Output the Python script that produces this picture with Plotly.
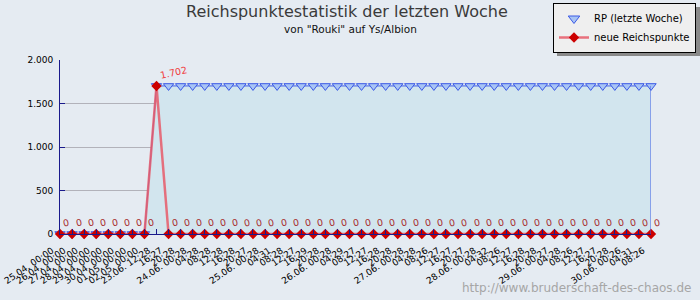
import plotly.graph_objects as go

labels = ["25.04. 00:00", "26.04. 00:00", "27.04. 00:00", "28.04. 00:00",
          "29.04. 00:00", "30.04. 00:00", "01.05. 00:00", "02.05. 00:00",
          "23.06. 12:28", "16:27", "20:28",
          "24.06. 00:28", "04:28", "08:28", "12:28", "16:28", "20:27",
          "25.06. 00:28", "04:31", "08:28", "12:27", "16:29", "20:28",
          "26.06. 00:28", "04:29", "08:27", "12:27", "16:28", "20:28",
          "27.06. 00:28", "04:28", "08:26", "12:27", "16:27", "20:27",
          "28.06. 00:28", "04:32", "08:26", "12:27", "16:28", "20:28",
          "29.06. 00:27", "04:28", "08:26", "12:27", "16:27", "20:28",
          "30.06. 00:26", "04:31", "08:26"]

rp_week = [0, 0, 0, 0, 0, 0, 0, 0,
           1702, 1702, 1702,
           1702, 1702, 1702, 1702, 1702, 1702,
           1702, 1702, 1702, 1702, 1702, 1702,
           1702, 1702, 1702, 1702, 1702, 1702,
           1702, 1702, 1702, 1702, 1702, 1702,
           1702, 1702, 1702, 1702, 1702, 1702,
           1702, 1702, 1702, 1702, 1702, 1702,
           1702, 1702, 1702]

new_rp = [0, 0, 0, 0, 0, 0, 0, 0,
          1702, 0, 0,
          0, 0, 0, 0, 0, 0,
          0, 0, 0, 0, 0, 0,
          0, 0, 0, 0, 0, 0,
          0, 0, 0, 0, 0, 0,
          0, 0, 0, 0, 0, 0,
          0, 0, 0, 0, 0, 0,
          0, 0, 0]

title_text = "Reichspunktestatistik der letzten Woche"
subtitle_text = 'von "Rouki" auf Ys/Albion'
watermark = "http://www.bruderschaft-des-chaos.de"
series_names = ["RP (letzte Woche)", "neue Reichspunkte"]

xs = list(range(len(labels)))

BG = "#e5ebf2"
AXIS = "#1a1a8c"
BLUE = "#3c5ae6"
SHADOW = "#8a8a8a"
FONT = "DejaVu Sans"

# plot area geometry (pixels)
L, R, T, B = 60, 49, 60, 66
W, H = 700, 300
PW, PH = W - L - R, H - T - B


def px_x(p):
    return (p - L) / PW


def px_y(p):
    return (H - B - p) / PH


fig = go.Figure()

fig.add_trace(go.Scatter(
    x=xs, y=rp_week, mode="lines+markers", fill="tozeroy",
    fillcolor="#d2e5ee",
    line=dict(color=BLUE, width=1),
    marker=dict(symbol="triangle-down", size=9, color="#a8c4f4",
                line=dict(color=BLUE, width=1)),
    name=series_names[0], showlegend=False, cliponaxis=False,
))
fig.add_trace(go.Scatter(
    x=[None], y=[None], mode="markers",
    marker=dict(symbol="triangle-down", size=10, color="#a8c4f4",
                line=dict(color=BLUE, width=1)),
    name=series_names[0],
))
fig.add_trace(go.Scatter(
    x=xs, y=new_rp, mode="lines+markers",
    line=dict(color="rgba(232,90,104,0.85)", width=2.5),
    marker=dict(symbol="diamond", size=8, color="#cc0000"),
    name=series_names[1], cliponaxis=False,
))


def fmt(v):
    return f"{v:,}".replace(",", ".")


annotations = []
for x, v in zip(xs, new_rp):
    annotations.append(dict(
        x=x, y=v, xref="x", yref="y", text=fmt(v), showarrow=False,
        xanchor="left", yanchor="bottom", yshift=3, xshift=0,
        textangle=-12,
        font=dict(family=FONT, size=9.5,
                  color="#f03c3c" if v > 0 else "#a83030"),
    ))

annotations += [
    dict(x=px_x(347), y=px_y(11), xref="paper", yref="paper",
         text=title_text, showarrow=False, xanchor="center", yanchor="middle",
         font=dict(family=FONT, size=16, color="#3a3a3a")),
    dict(x=px_x(350), y=px_y(29), xref="paper", yref="paper",
         text=subtitle_text, showarrow=False, xanchor="center", yanchor="middle",
         font=dict(family=FONT, size=10.5, color="#111111")),
    dict(x=px_x(693), y=px_y(288), xref="paper", yref="paper",
         text=watermark, showarrow=False, xanchor="right", yanchor="middle",
         font=dict(family=FONT, size=12, color="#a6a6a6")),
]

shapes = [
    # right edge of the filled area
    dict(type="line", xref="x", yref="y", x0=xs[-1], x1=xs[-1],
         y0=0, y1=rp_week[-1], line=dict(color=BLUE, width=1)),
    # legend drop shadow
    dict(type="rect", xref="paper", yref="paper",
         x0=px_x(557), x1=px_x(700), y0=px_y(56), y1=px_y(7),
         fillcolor=SHADOW, line=dict(width=0), layer="above"),
]

fig.update_layout(
    width=W, height=H,
    margin=dict(l=L, r=R, t=T, b=B, pad=0, autoexpand=False),
    paper_bgcolor=BG, plot_bgcolor=BG,
    separators=",.",
    font=dict(family=FONT, size=9, color="#000000"),
    showlegend=True,
    legend=dict(xref="container", yref="container",
                x=553 / W, y=1 - 3 / H, xanchor="left", yanchor="top",
                bgcolor="#efefef", bordercolor="#000000", borderwidth=1,
                font=dict(family=FONT, size=10, color="#000000"),
                tracegroupgap=0, itemwidth=30),
    annotations=annotations,
    shapes=shapes,
    xaxis=dict(range=[0, len(labels) - 1], tickmode="array",
               tickvals=xs, ticktext=labels, tickangle=-34,
               tickfont=dict(family=FONT, size=9, color="#000000"),
               ticklabelshift=-8, ticklabelstandoff=7,
               showgrid=False, zeroline=False, showline=True,
               linecolor=AXIS, linewidth=1,
               ticks="inside", ticklen=5, tickcolor=AXIS),
    yaxis=dict(range=[0, 2000], dtick=500, tickformat=",d",
               tickfont=dict(family=FONT, size=9, color="#000000"),
               showgrid=True, gridcolor="#b2b2ba", gridwidth=1,
               zeroline=False, showline=True, linecolor=AXIS, linewidth=1,
               ticks="inside", ticklen=5, tickcolor=AXIS,
               ticklabelstandoff=4),
)

fig.write_html("out.html")
